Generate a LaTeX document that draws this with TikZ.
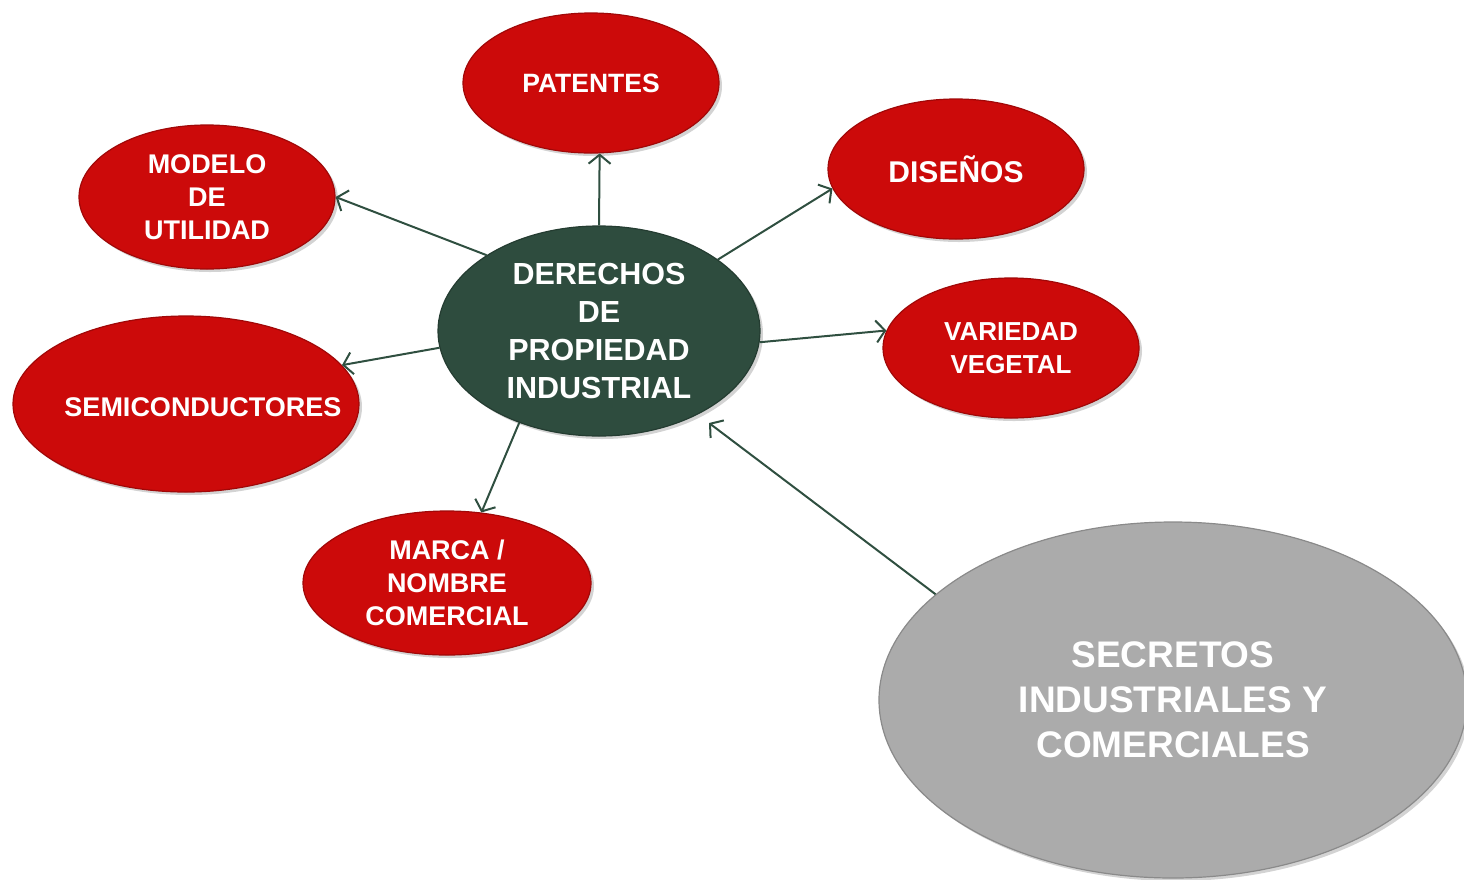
\documentclass[tikz,border=0pt]{standalone}
\usepackage{fontspec}
\setmainfont{Liberation Sans}
\usetikzlibrary{shapes.geometric,arrows.meta,shadows}
\definecolor{redfill}{HTML}{CC0A0A}
\definecolor{redrim}{HTML}{A00808}
\definecolor{greenfill}{HTML}{2E4C3E}
\definecolor{greenrim}{HTML}{243C31}
\definecolor{greyfill}{HTML}{ABABAB}
\definecolor{greyrim}{HTML}{8A8A8A}
\definecolor{linkcol}{HTML}{2F4F40}
\tikzset{
  ell/.style={ellipse, inner sep=0pt, align=center, text=white, font=\bfseries,
    drop shadow={shadow xshift=3pt, shadow yshift=-3pt, opacity=0.35}},
  redell/.style={ell, fill=redfill, draw=redrim, line width=1.2pt},
  txt/.style={inner sep=0pt, align=center, text=white, font=\bfseries},
  link/.style={draw=linkcol, line width=2pt, -{Straight Barb[length=9pt,width=22pt]}}
}
\begin{document}
\begin{tikzpicture}[x=1pt,y=-1pt]
\useasboundingbox (0,0) rectangle (1464,879);
\node[ell, fill=greyfill, draw=greyrim, line width=1.2pt, minimum width=588pt, minimum height=356pt,
      font=\bfseries\fontsize{37}{45}\selectfont] (sec) at (1173,700)
      {SECRETOS\\INDUSTRIALES Y\\COMERCIALES};
\node[ell, fill=greenfill, draw=greenrim, line width=1.2pt, minimum width=322pt, minimum height=210pt,
      font=\bfseries\fontsize{30.5}{38}\selectfont] (der) at (599,331)
      {DERECHOS\\DE\\PROPIEDAD\\INDUSTRIAL};
\node[redell, minimum width=256pt, minimum height=140pt, font=\bfseries\fontsize{26.5}{33}\selectfont]
      (pat) at (591,83) {PATENTES};
\node[redell, minimum width=256pt, minimum height=144pt, font=\bfseries\fontsize{27}{33}\selectfont]
      (mod) at (207,197) {MODELO\\DE\\UTILIDAD};
\node[redell, minimum width=256pt, minimum height=140pt, font=\bfseries\fontsize{30}{36}\selectfont]
      (dis) at (956,169) {DISEÑOS};
\node[redell, minimum width=256pt, minimum height=140pt, font=\bfseries\fontsize{26}{33}\selectfont]
      (var) at (1011,348) {VARIEDAD\\VEGETAL};
\node[redell, minimum width=346pt, minimum height=176pt] (semi) at (186,404) {};
\node[txt, font=\bfseries\fontsize{27}{33}\selectfont] (semit) at (203,407) {SEMICONDUCTORES};
\node[redell, minimum width=288pt, minimum height=144pt, font=\bfseries\fontsize{27}{33}\selectfont]
      (mar) at (447,583) {MARCA /\\NOMBRE\\COMERCIAL};
\coordinate (dertip) at (709,423);
\draw[link] (der.90) -- (pat.-83);
\draw[link] (der.146) -- (mod.0);
\draw[link] (der.31) -- (dis.189);
\draw[link] (der.-4) -- (var.172.5);
\draw[link] (der.186) -- (semi.14);
\draw[link] (der.229.5) -- (mar.64.4);
\draw[link] (sec.156.2) -- (dertip);
\end{tikzpicture}
\end{document}
